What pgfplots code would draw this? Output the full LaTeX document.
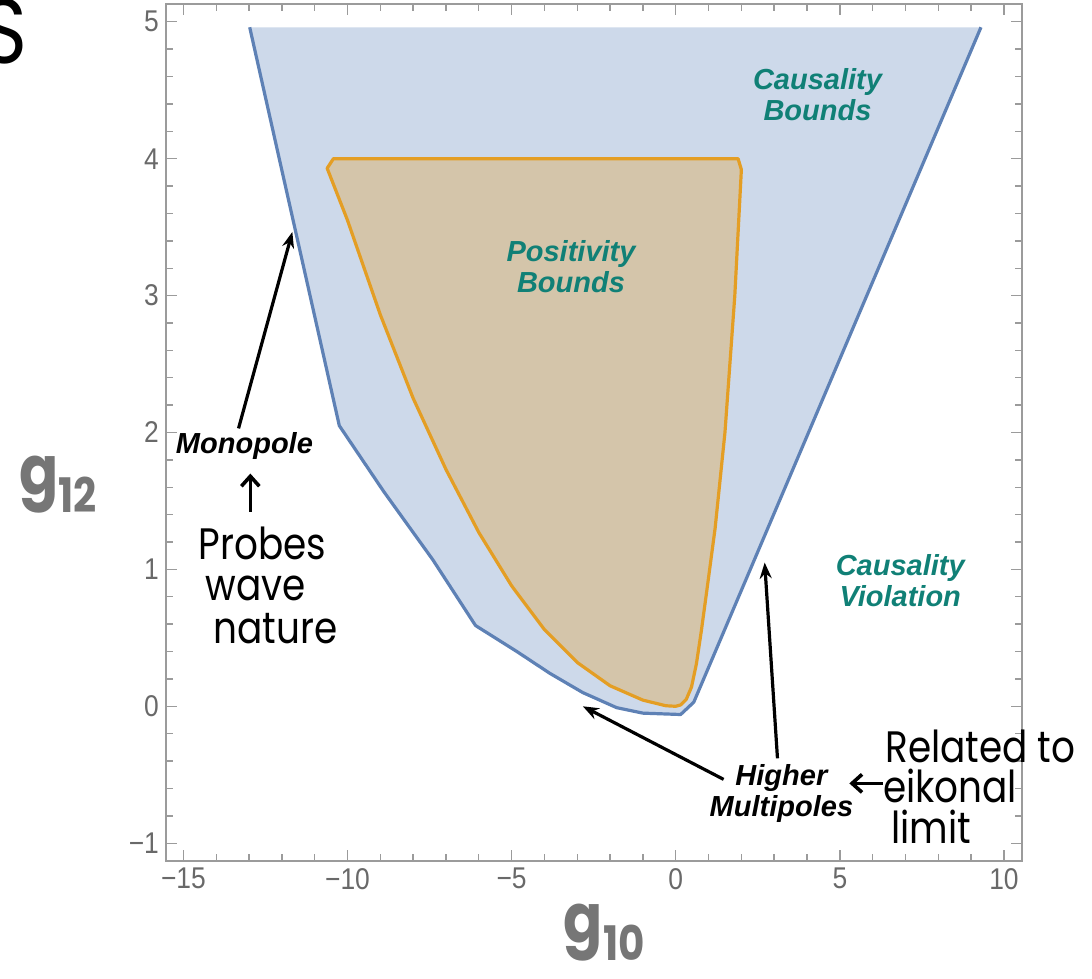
\documentclass[border=0pt]{standalone}
\usepackage{fontspec}
\setmainfont{Liberation Sans}
\newfontfamily\tickfont{Liberation Sans}[FakeStretch=0.88]
\newfontfamily\handfont{Poppins}[FakeStretch=0.85]
\usepackage{pgfplots}
\pgfplotsset{compat=1.18}
\usetikzlibrary{arrows.meta}

\definecolor{frameGray}{RGB}{155,155,155}
\definecolor{tickText}{RGB}{105,105,105}
\definecolor{causalFill}{RGB}{205,217,234}
\definecolor{causalLine}{RGB}{94,129,181}
\definecolor{posFill}{RGB}{212,197,170}
\definecolor{posLine}{RGB}{228,158,36}
\definecolor{labelTeal}{RGB}{16,128,118}
\definecolor{handGray}{RGB}{118,118,118}

\begin{document}
\begin{tikzpicture}
\begin{axis}[
  width=428pt, height=428.5pt, scale only axis,
  xmin=-15.53, xmax=10.55, ymin=-1.13, ymax=5.13,
  xtick={-15,-10,-5,0,5,10},
  xticklabels={−15,−10,−5,0,5,10},
  ytick={-1,0,1,2,3,4,5},
  yticklabels={−1,0,1,2,3,4,5},
  minor x tick num=4, minor y tick num=4,
  tick align=inside,
  major tick length=5.5pt, minor tick length=3.5pt,
  axis line style={frameGray, line width=1pt},
  every tick/.style={frameGray, line width=0.7pt},
  tick label style={font=\tickfont\fontsize{15}{15}\selectfont, text=tickText},
  clip=false,
]
% region allowed by causality
\addplot[fill=causalFill, draw=none] coordinates {
  (-12.98,4.96) (-10.25,2.05) (-8.9,1.57) (-7.4,1.07) (-6.1,0.59)
  (-4.84,0.40) (-3.83,0.24) (-2.83,0.10) (-1.80,-0.01) (-1.0,-0.05)
  (0.15,-0.06) (0.55,0.03) (9.30,4.96)
} -- cycle;
\addplot[causalLine, line width=1.6pt, line join=round] coordinates {
  (-12.98,4.96) (-10.25,2.05) (-8.9,1.57) (-7.4,1.07) (-6.1,0.59)
  (-4.84,0.40) (-3.83,0.24) (-2.83,0.10) (-1.80,-0.01) (-1.0,-0.05)
  (0.15,-0.06) (0.55,0.03) (9.30,4.96)
};
% region allowed by positivity
\addplot[fill=posFill, draw=posLine, line width=1.6pt, line join=round] coordinates {
  (-10.43,4.0) (1.90,4.0) (2.0,3.92) (1.8,3.0) (1.5,2.0) (1.2,1.3)
  (0.95,0.85) (0.78,0.55) (0.63,0.31) (0.48,0.14) (0.32,0.05) (0.15,0.01)
  (0.0,0.0) (-0.3,0.004) (-1.0,0.045) (-2.0,0.15) (-3.0,0.32) (-4.0,0.56)
  (-5.0,0.88) (-6.0,1.27) (-7.0,1.73) (-8.0,2.25) (-9.0,2.86) (-10.0,3.55)
  (-10.62,3.93)
} -- cycle;

\node[font=\bfseries\itshape\fontsize{14.5}{15.5}\selectfont, text=labelTeal, align=center]
  at (axis cs:4.32,4.47) {Causality\\Bounds};
\node[font=\bfseries\itshape\fontsize{14.5}{15.5}\selectfont, text=labelTeal, align=center]
  at (axis cs:-3.19,3.21) {Positivity\\Bounds};
\node[font=\bfseries\itshape\fontsize{14.5}{15.5}\selectfont, text=labelTeal, align=center]
  at (axis cs:6.84,0.92) {Causality\\Violation};
\node[font=\bfseries\itshape\fontsize{14.5}{15.5}\selectfont, align=center]
  at (axis cs:-13.14,1.90) {Monopole};
\node[font=\bfseries\itshape\fontsize{14.5}{15.5}\selectfont, align=center]
  at (axis cs:3.22,-0.636) {Higher\\Multipoles};

\draw[line width=1.6pt, -{Stealth[length=8pt,width=6pt]}]
  (axis cs:-13.32,2.03) -- (axis cs:-11.68,3.465);
\draw[line width=1.6pt, -{Stealth[length=8pt,width=6pt]}]
  (axis cs:1.46,-0.534) -- (axis cs:-2.83,0.0);
\draw[line width=1.6pt, -{Stealth[length=8pt,width=6pt]}]
  (axis cs:3.10,-0.38) -- (axis cs:2.71,1.05);

% handwritten notes
\tikzset{hand/.style={font=\handfont\fontsize{22}{22}\selectfont, inner sep=0pt}}
\node[hand] at (axis cs:-12.59,1.19) {Probes};
\node[hand] at (axis cs:-12.80,0.86) {wave};
\node[hand] at (axis cs:-12.20,0.57) {nature};
\draw[line width=1.8pt, -{Straight Barb[length=5pt,width=9pt]}]
  (axis cs:-12.96,1.42) -- (axis cs:-12.96,1.70);
\node[hand] at (axis cs:9.28,-0.29) {Related to};
\node[hand] at (axis cs:8.36,-0.58) {eikonal};
\node[hand] at (axis cs:7.79,-0.88) {limit};
\draw[line width=1.8pt, -{Straight Barb[length=5pt,width=9pt]}]
  (axis cs:6.30,-0.563) -- (axis cs:5.29,-0.563);
\node[font=\handfont\bfseries\fontsize{34}{34}\selectfont, text=handGray, inner sep=0pt]
  at (axis cs:-18.80,1.62) {g\textsubscript{12}};
\node[font=\handfont\bfseries\fontsize{34}{34}\selectfont, text=handGray, inner sep=0pt]
  at (axis cs:-2.16,-1.65) {g\textsubscript{10}};
\node[font=\handfont\fontsize{46}{46}\selectfont, inner sep=0pt]
  at (axis cs:-20.45,4.93) {S};
\end{axis}
\pgfresetboundingbox
\path[use as bounding box]
  ([xshift=-83pt,yshift=-59pt]current axis.south west)
  rectangle ([xshift=35pt,yshift=2pt]current axis.north east);
\end{tikzpicture}
\end{document}
